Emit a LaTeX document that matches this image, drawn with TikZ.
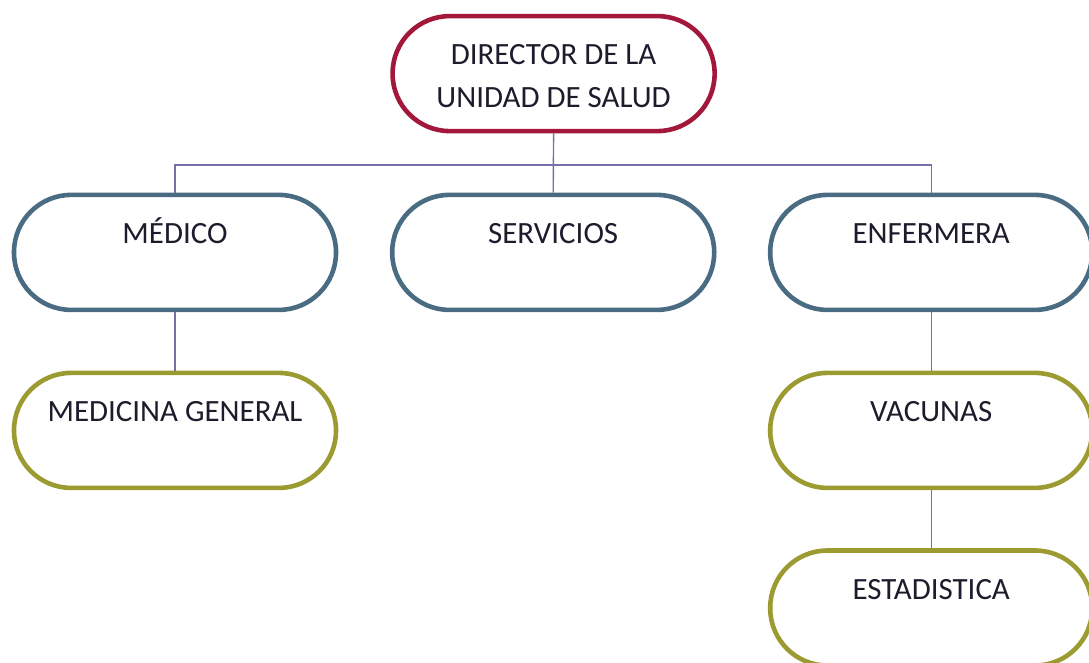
\documentclass[tikz,border=0pt]{standalone}
\usepackage{fontspec}
\setmainfont{Carlito}
\usetikzlibrary{positioning}
\definecolor{dirred}{HTML}{A3173B}
\definecolor{mainblue}{HTML}{4A6C82}
\definecolor{subolive}{HTML}{9B9B32}
\definecolor{linkline}{HTML}{7670A8}
\definecolor{txt}{HTML}{1C1C2C}
\tikzstyle{unit} = [rectangle, rounded corners=1.43cm, line width=.115cm, fill=white,
  minimum width=8.05cm, minimum height=2.875cm, inner sep=0pt, align=center,
  font=\fontsize{22}{30.5}\selectfont, text=txt]
\tikzstyle{head} = [unit, draw=dirred]
\tikzstyle{area} = [unit, draw=mainblue]
\tikzstyle{sub} = [unit, draw=subolive]
\tikzstyle{link} = [draw=linkline, line width=.035cm]
\newcommand{\hiline}{\rule{0pt}{27pt}}

\begin{document}
\begin{tikzpicture}
	\useasboundingbox (0,0) rectangle (27.225,-16.575);
	\node [head] (dir) at (13.84,-1.84) {\hiline DIRECTOR DE LA\\UNIDAD DE SALUD\strut};
	\node [area] (med) at (4.375,-6.31) {\hiline MÉDICO\\\strut};
	\node [area] (serv) at (13.83,-6.31) {\hiline SERVICIOS\\\strut};
	\node [area] (enf) at (23.28,-6.31) {\hiline ENFERMERA\\\strut};
	\node [sub] (mg) at (4.375,-10.76) {\hiline MEDICINA GENERAL\\\strut};
	\node [sub] (vac) at (23.28,-10.76) {\hiline VACUNAS\\\strut};
	\node [sub] (est) at (23.28,-15.2) {\hiline ESTADISTICA\\\strut};
	\coordinate (bar) at (13.84,-4.125);
	\draw [link] (dir.south) -- (serv.north);
	\draw [link] (med.north) |- (bar) -| (enf.north);
	\draw [link] (med.south) -- (mg.north);
	\draw [link] (enf.south) -- (vac.north);
	\draw [link] (vac.south) -- (est.north);
\end{tikzpicture}
\end{document}
